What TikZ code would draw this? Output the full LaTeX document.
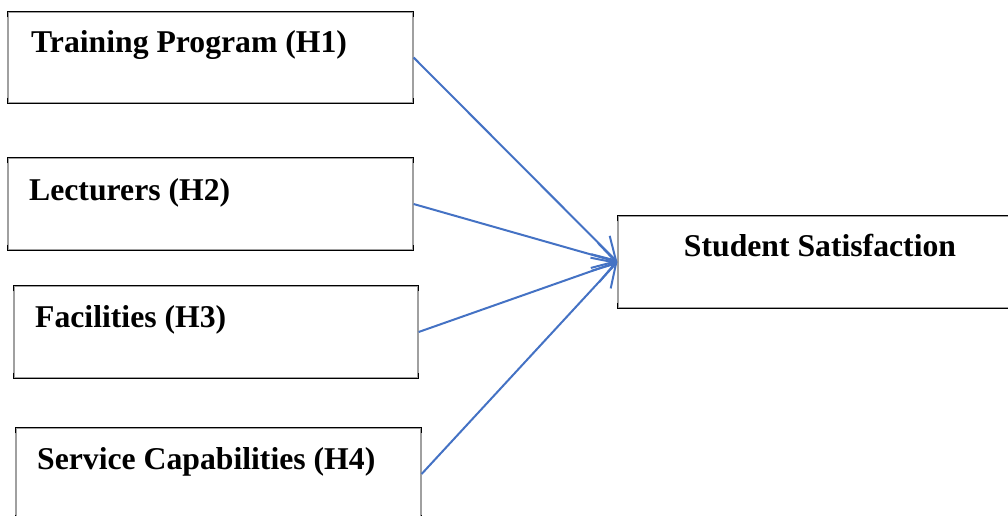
\documentclass[tikz,border=0pt]{standalone}
\usepackage{fontspec}
\setmainfont{Liberation Serif}
\usetikzlibrary{arrows.meta}
\definecolor{arrowblue}{RGB}{68,114,196}
\definecolor{sidegray}{RGB}{160,160,160}
\tikzset{
  box/.style={draw=sidegray, line width=1.2pt, inner sep=0pt, fill=none},
  edge/.style={draw=black, line width=1.3pt},
  lbl/.style={inner sep=0pt, font=\fontsize{31.7}{38}\selectfont\bfseries},
  conn/.style={draw=arrowblue, line width=2pt, -{Straight Barb[length=22pt,width=26pt,line width=2pt]}}
}
\begin{document}
\begin{tikzpicture}[x=1pt,y=-1pt]
\useasboundingbox (0,0) rectangle (1008,515);
\node[box, minimum width=405pt, minimum height=91pt] (b1) at (210.5,57.5) {};
\node[box, minimum width=405pt, minimum height=92pt] (b2) at (210.5,204) {};
\node[box, minimum width=404pt, minimum height=92pt] (b3) at (216,332) {};
\node[box, minimum width=405pt, minimum height=92pt] (b4) at (218.5,474) {};
\node[box, minimum width=404pt, minimum height=92pt] (b5) at (820,262) {};
\foreach \b in {b1,b2,b3,b4,b5}{
  \draw[edge] ([yshift=-6pt]\b.north west) -- (\b.north west) -- (\b.north east) -- ([yshift=-6pt]\b.north east);
  \draw[edge] ([yshift=6pt]\b.south west) -- (\b.south west) -- (\b.south east) -- ([yshift=6pt]\b.south east);
}
\node[lbl, anchor=base west] (t1) at (31,52) {Training Program (H1)};
\node[lbl, anchor=base west] (t2) at (29,200) {Lecturers (H2)};
\node[lbl, anchor=base west] (t3) at (35,327) {Facilities (H3)};
\node[lbl, anchor=base west] (t4) at (37,469) {Service Capabilities (H4)};
\node[lbl, anchor=base] (t5) at (820,256) {Student Satisfaction};
\draw[conn] (b1.east) -- (b5.west);
\draw[conn] (b2.east) -- (b5.west);
\draw[conn] (b3.east) -- (b5.west);
\draw[conn] (b4.east) -- (b5.west);
\end{tikzpicture}
\end{document}
